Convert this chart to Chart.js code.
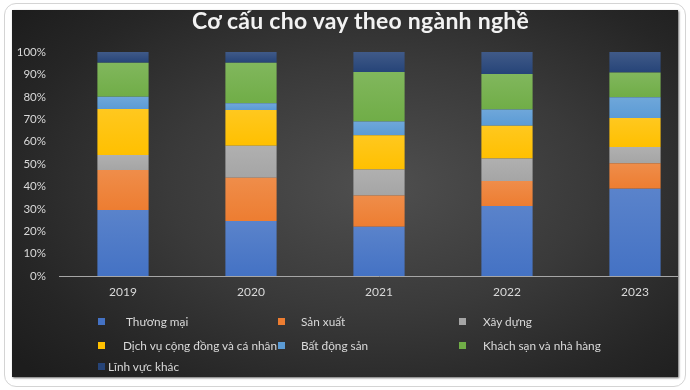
<!DOCTYPE html>
<html>
<head>
<meta charset="utf-8">
<script src="https://cdn.jsdelivr.net/npm/chart.js@4.4.0/dist/chart.umd.min.js"></script>
<style>
  html, body { margin: 0; padding: 0; background: #ffffff; }
  body { width: 690px; height: 390px; position: relative; overflow: hidden; font-family: Lato, "Noto Sans", sans-serif; }
  #card { position: absolute; left: 4px; top: 3px; width: 680px; height: 382px; border: 1px solid #d4d4d4; border-radius: 12px; background: #fff; }
  #panel {
    position: absolute; left: 12px; top: 10px; width: 666px; height: 367px; overflow: hidden;
    background: radial-gradient(ellipse 70% 75% at 55% 48%, #4f4f4f 0%, #3a3a3a 45%, #262626 80%, #1d1d1d 100%);
    box-shadow: 1px 1px 2px rgba(0,0,0,0.6);
  }
  #chartBox { position: absolute; left: 0; top: 0; width: 700px; height: 367px; }
  #title { position: absolute; left: 192px; top: 6px; color: #f2f2f2; font-weight: bold; font-size: 23px; letter-spacing: 0.25px; white-space: nowrap; }
  .lg { position: absolute; color: #d9d9d9; font-size: 11.8px; white-space: nowrap; line-height: 14px; }
  .lg i { position: absolute; top: 3px; width: 7px; height: 7px; }
</style>
</head>
<body>
<div id="card"></div>
<div id="panel">
  <div id="chartBox"><canvas id="loanChart" width="700" height="367"></canvas></div>
</div>
<div id="title">Cơ cấu cho vay theo ngành nghề</div>
<div id="legend"></div>

<script>
const years = ['2019', '2020', '2021', '2022', '2023'];
const sectors = [
  'Thương mại',
  'Sản xuất',
  'Xây dựng',
  'Dịch vụ cộng đồng và cá nhân',
  'Bất động sản',
  'Khách sạn và nhà hàng',
  'Lĩnh vực khác'
];
const thuongMai = [29.5, 24.5, 22.0, 31.3, 39.0];
const sanXuat = [17.8, 19.4, 13.9, 11.1, 11.3];
const xayDung = [6.7, 14.3, 11.7, 10.1, 7.3];
const dichVu = [20.5, 15.9, 15.2, 14.6, 12.9];
const batDongSan = [5.5, 3.0, 6.2, 7.2, 9.3];
const khachSan = [15.2, 18.1, 22.1, 15.9, 11.0];
const linhVucKhac = [4.8, 4.8, 8.9, 9.8, 9.2];
const yTicks = [0, 10, 20, 30, 40, 50, 60, 70, 80, 90, 100];

const series = [thuongMai, sanXuat, xayDung, dichVu, batDongSan, khachSan, linhVucKhac];
const colors = ['#4472c4', '#ed7d31', '#a5a5a5', '#ffc000', '#5b9bd5', '#70ad47', '#264478'];

// legend placement (page px), Excel-style
const legendPos = [
  { x: 98, y: 315, gap: 28 },
  { x: 278, y: 315, gap: 23 },
  { x: 459, y: 315, gap: 24 },
  { x: 98, y: 339, gap: 25 },
  { x: 278, y: 339, gap: 23 },
  { x: 459, y: 339, gap: 24 },
  { x: 98, y: 360, gap: 10 }
];

function lighten(hex, amt) {
  const n = parseInt(hex.slice(1), 16);
  let r = n >> 16, g = (n >> 8) & 255, b = n & 255;
  r = Math.round(r + (255 - r) * amt);
  g = Math.round(g + (255 - g) * amt);
  b = Math.round(b + (255 - b) * amt);
  return 'rgb(' + r + ',' + g + ',' + b + ')';
}

function segmentFill(d) {
  return (context) => {
    const chart = context.chart;
    if (!chart.chartArea || context.dataIndex === undefined) return colors[d];
    const i = context.dataIndex;
    let lo = 0;
    for (let k = 0; k < d; k++) lo += series[k][i];
    const hi = lo + series[d][i];
    const y1 = chart.scales.y.getPixelForValue(hi);
    const y2 = chart.scales.y.getPixelForValue(lo);
    if (!isFinite(y1) || !isFinite(y2) || y1 === y2) return colors[d];
    const g = chart.ctx.createLinearGradient(0, y1, 0, y2);
    g.addColorStop(0, lighten(colors[d], 0.12));
    g.addColorStop(1, colors[d]);
    return g;
  };
}

const datasets = sectors.map((name, d) => ({
  label: name,
  data: series[d],
  backgroundColor: segmentFill(d),
  borderWidth: 0,
  barPercentage: 0.4,
  categoryPercentage: 1.0
}));

new Chart(document.getElementById('loanChart').getContext('2d'), {
  type: 'bar',
  data: { labels: years, datasets: datasets },
  options: {
    responsive: false,
    animation: false,
    layout: { padding: { left: 0, right: 13, top: 42, bottom: 77 } },
    plugins: {
      legend: { display: false },
      title: { display: false },
      tooltip: { enabled: false }
    },
    scales: {
      x: {
        stacked: true,
        grid: { display: false, drawTicks: false },
        border: { display: true, color: '#a6a6a6', width: 1 },
        ticks: { color: '#d9d9d9', font: { family: 'Lato', size: 12 }, padding: 9 },
        afterFit: (s) => { s.height = 24; }
      },
      y: {
        stacked: true,
        min: 0,
        max: 100,
        afterFit: (s) => { s.width = 47; },
        afterBuildTicks: (s) => { s.ticks = yTicks.map(v => ({ value: v })); },
        grid: { display: false, drawTicks: false },
        border: { display: false },
        ticks: {
          color: '#d9d9d9',
          font: { family: 'Lato', size: 11.5 },
          padding: 13,
          callback: (v) => v + '%'
        }
      }
    }
  }
});

const legendEl = document.getElementById('legend');
sectors.forEach((name, d) => {
  const p = legendPos[d];
  const item = document.createElement('div');
  item.className = 'lg';
  item.style.left = p.x + 'px';
  item.style.top = p.y + 'px';
  item.style.paddingLeft = p.gap + 'px';
  item.innerHTML = '<i style="left:0;background:' + colors[d] + '"></i>' + name;
  legendEl.appendChild(item);
});
</script>
</body>
</html>
